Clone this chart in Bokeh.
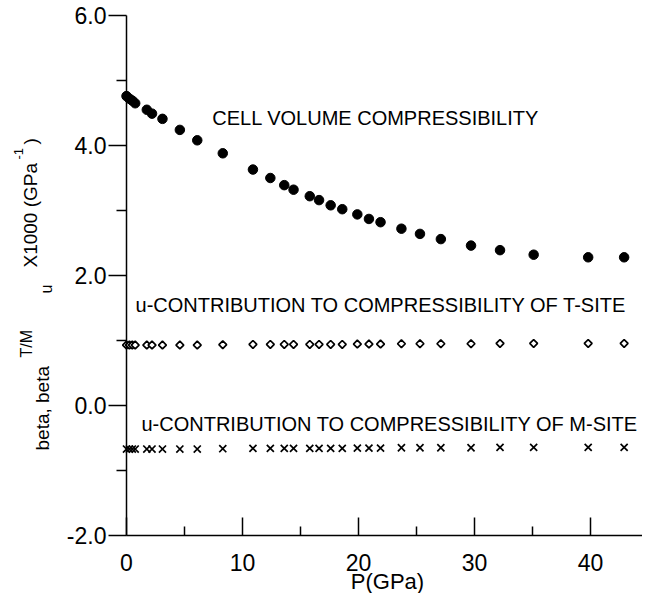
import math
from bokeh.plotting import figure
from bokeh.models import Range1d, FixedTicker, Label, NumeralTickFormatter
from bokeh.embed import file_html
from bokeh.resources import INLINE

# ---- data ----
pressure = [0.0, 0.25, 0.5, 0.75, 1.75, 2.2, 3.1, 4.6, 6.1, 8.3, 10.9, 12.4, 13.6,
            14.4, 15.8, 16.6, 17.6, 18.6, 19.9, 20.9, 21.9, 23.7, 25.3, 27.1, 29.7,
            32.2, 35.1, 39.8, 42.9]
cell_volume = [4.76, 4.72, 4.69, 4.65, 4.55, 4.49, 4.41, 4.24, 4.08, 3.88, 3.63, 3.50,
               3.39, 3.32, 3.22, 3.16, 3.08, 3.02, 2.94, 2.87, 2.82, 2.72, 2.64, 2.56,
               2.46, 2.39, 2.32, 2.28, 2.28]
t_site = [0.93, 0.93, 0.93, 0.93, 0.93, 0.93, 0.93, 0.93, 0.93, 0.935, 0.94, 0.94,
          0.94, 0.94, 0.94, 0.94, 0.94, 0.94, 0.945, 0.945, 0.945, 0.95, 0.95, 0.95,
          0.95, 0.955, 0.955, 0.955, 0.955]
m_site = [-0.67, -0.67, -0.67, -0.67, -0.67, -0.67, -0.67, -0.67, -0.67, -0.665,
          -0.66, -0.66, -0.66, -0.66, -0.66, -0.66, -0.66, -0.66, -0.655, -0.655,
          -0.655, -0.65, -0.65, -0.65, -0.65, -0.645, -0.645, -0.645, -0.645]

x_major_ticks = [0, 10, 20, 30, 40]
x_minor_ticks = [5, 15, 25, 35]
y_major_ticks = [-2, 0, 2, 4, 6]
y_minor_ticks = [-1, 1, 3, 5]

series_labels = ["CELL VOLUME COMPRESSIBILITY",
                 "u-CONTRIBUTION TO COMPRESSIBILITY OF T-SITE",
                 "u-CONTRIBUTION TO COMPRESSIBILITY OF M-SITE"]
x_title = "P(GPa)"

FONT = "Liberation Sans"

W, H = 642, 593
X0_PX, PX_PER_X = 126.0, 11.6      # canvas x of P=0, pixels per GPa
Y6_PX, PX_PER_Y = 15.0, 65.0       # canvas y of beta=6, pixels per unit

p = figure(width=W, height=H, title=None,
           x_range=Range1d(-X0_PX / PX_PER_X, (W - X0_PX) / PX_PER_X),
           y_range=Range1d(6 - (H - Y6_PX) / PX_PER_Y, 6 + Y6_PX / PX_PER_Y),
           output_backend="svg", toolbar_location=None,
           min_border_left=0, min_border_right=0,
           min_border_top=0, min_border_bottom=0)
p.outline_line_color = None
p.xgrid.visible = False
p.ygrid.visible = False
p.background_fill_color = "white"
p.border_fill_color = "white"

xa = p.xaxis[0]
xa.fixed_location = -2
xa.bounds = (0, 45)
xa.ticker = FixedTicker(ticks=x_major_ticks, minor_ticks=x_minor_ticks)
xa.major_tick_in = 18
xa.major_tick_out = 0
xa.minor_tick_in = 9
xa.minor_tick_out = 0
xa.axis_line_width = 1.5
xa.major_tick_line_width = 1.5
xa.minor_tick_line_width = 1.5
xa.major_label_text_font = FONT
xa.major_label_text_font_size = "23px"
xa.major_label_text_color = "black"
xa.major_label_standoff = 18

ya = p.yaxis[0]
ya.fixed_location = 0
ya.bounds = (-2, 6)
ya.ticker = FixedTicker(ticks=y_major_ticks, minor_ticks=y_minor_ticks)
ya.formatter = NumeralTickFormatter(format="0.0")
ya.major_tick_in = 0
ya.major_tick_out = 18
ya.minor_tick_in = 0
ya.minor_tick_out = 10
ya.axis_line_width = 1.5
ya.major_tick_line_width = 1.5
ya.minor_tick_line_width = 1.5
ya.major_label_text_font = FONT
ya.major_label_text_font_size = "23px"
ya.major_label_text_color = "black"
ya.major_label_standoff = 2

# data series
p.scatter(pressure, cell_volume, marker="circle", size=9.5, color="black")
p.scatter(pressure, t_site, marker="square", angle=math.pi / 4, size=5.5,
          fill_color="white", line_color="black", line_width=1.7)
p.scatter(pressure, m_site, marker="x", size=10, line_color="black", line_width=1.7)

# in-plot series labels
for txt, (lx, ly) in zip(series_labels, [(7.4, 4.43), (0.78, 1.54), (1.29, -0.28)]):
    p.add_layout(Label(x=lx, y=ly, text=txt, text_font=FONT, text_font_size="20px",
                       text_color="black", text_align="left", text_baseline="alphabetic"))

# x-axis title, centred under the P axis
p.add_layout(Label(x=22.5, y=12, x_units="data", y_units="screen", text=x_title,
                   text_font=FONT, text_font_size="22px", text_color="black",
                   text_align="center", text_baseline="alphabetic"))

# y-axis title pieces (rotated, with raised / lowered parts)
ylabel_parts = [
    ("beta, beta", 42, 143, "19px"),
    ("T/M", 26, 236, "16px"),
    ("u", 46, 300, "16px"),
    ("X1000 (GPa", 30, 326, "19px"),
    ("-1", 18, 434, "13px"),
    (")", 30, 449, "19px"),
]
for txt, sx, sy, fs in ylabel_parts:
    p.add_layout(Label(x=sx, y=sy, x_units="screen", y_units="screen", text=txt,
                       angle=math.pi / 2, text_font=FONT, text_font_size=fs,
                       text_color="black", text_align="left",
                       text_baseline="alphabetic"))

open("out.html", "w").write(file_html(p, INLINE))
